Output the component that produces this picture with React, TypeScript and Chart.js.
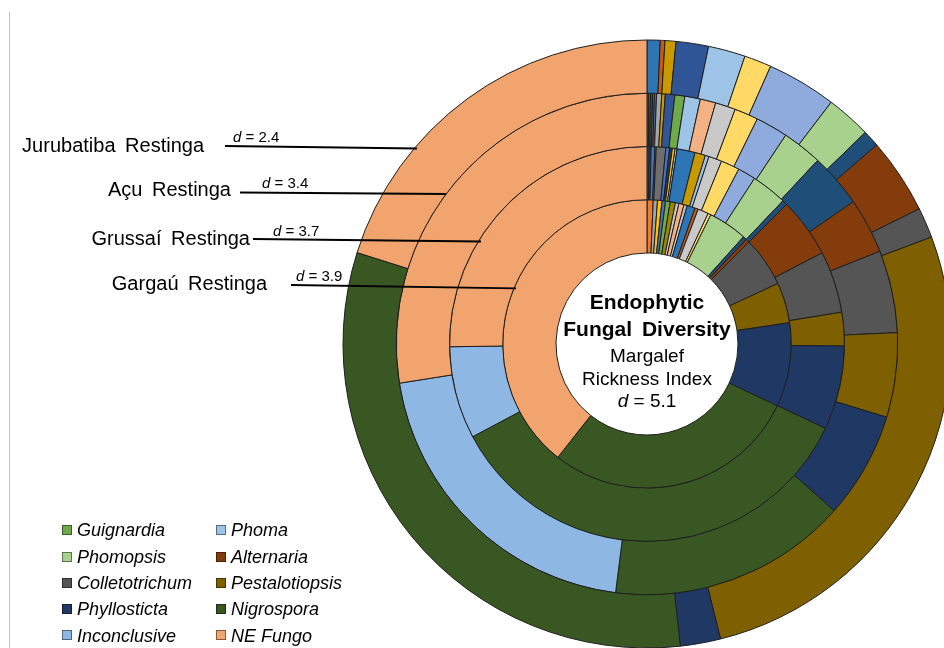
import React, { useEffect, useRef } from "react";
import { Chart, registerables } from "chart.js";

Chart.register(...registerables);

// ---------------- DATA ----------------
// Rings from outermost to innermost
const SITES = ["Jurubatiba Restinga", "Açu Restinga", "Grussaí Restinga", "Gargaú Restinga"];
const MARGALEF_D = ["2.4", "3.4", "3.7", "3.9"];
const OVERALL_D = "5.1";

const LEGEND_TAXA = [
  "Guignardia", "Phoma",
  "Phomopsis", "Alternaria",
  "Colletotrichum", "Pestalotiopsis",
  "Phyllosticta", "Nigrospora",
  "Inconclusive", "NE Fungo",
];

// shares (share of a full circle, 360 per ring), clockwise from 12 o'clock
const jurubatibaTaxa = ["Taxon A", "Taxon B", "Taxon C", "Taxon D", "Phoma", "Taxon E", "Taxon F", "Phomopsis", "Taxon G", "Alternaria", "Colletotrichum", "Pestalotiopsis", "Phyllosticta", "Nigrospora", "NE Fungo"];
const jurubatibaShare = [2.5, 0.9, 2.1, 6.2, 7.1, 5.2, 13.3, 8.6, 3.2, 14.5, 5.8, 96.6, 7.7, 113.8, 72.5];

const acuTaxa = ["Taxon M", "Taxon O", "Taxon G", "Taxon B", "Taxon A", "Taxon J", "Taxon C", "Taxon D", "Guignardia", "Phoma", "Taxon H", "Taxon I", "Taxon E", "Taxon F", "Phomopsis", "Taxon G", "Alternaria", "Colletotrichum", "Pestalotiopsis", "Phyllosticta", "Nigrospora", "Inconclusive", "NE Fungo"];
const acuShare = [0.4, 0.4, 0.5, 0.4, 0.5, 1.2, 0.8, 2.2, 2.3, 3.6, 3.6, 4.7, 5.5, 7.5, 9.3, 12.5, 12.9, 19.1, 19.6, 24.7, 55.5, 73.8, 99.0];

const grussaiTaxa = ["Taxon A", "Taxon G", "Taxon M", "Taxon B", "Taxon P", "Taxon M", "Phyllosticta", "Taxon L", "Phoma", "Taxon A", "Taxon C", "Phoma", "Taxon I", "Taxon E", "Taxon F", "Phomopsis", "Taxon G", "Alternaria", "Colletotrichum", "Pestalotiopsis", "Phyllosticta", "Nigrospora", "Inconclusive", "NE Fungo"];
const grussaiShare = [0.6, 0.6, 1.1, 0.4, 2.8, 1.1, 0.8, 0.8, 0.6, 5.3, 3.1, 1.1, 3.9, 5.5, 5.3, 10.5, 1.5, 17.5, 18.2, 9.9, 24.7, 126.7, 27.2, 90.8];

const gargauTaxa = ["Taxon K", "Taxon J", "Taxon L", "Taxon M", "Guignardia", "Taxon N", "Taxon I", "Taxon H", "Taxon I", "Taxon A", "Taxon B", "Taxon I", "Taxon E", "Phomopsis", "Taxon G", "Alternaria", "Colletotrichum", "Pestalotiopsis", "Phyllosticta", "Nigrospora", "NE Fungo"];
const gargauShare = [2.5, 1.7, 1.8, 1.4, 1.9, 2.1, 1.4, 2.1, 1.3, 3.3, 1.3, 4.3, 1.2, 15.7, 1.5, 1.5, 20.2, 16.3, 33.9, 102.8, 141.8];

const RING_TAXA = [jurubatibaTaxa, acuTaxa, grussaiTaxa, gargauTaxa];
const RING_SHARE = [jurubatibaShare, acuShare, grussaiShare, gargauShare];

// ---------------- STYLE ----------------
const TAXON_COLORS: Record<string, string> = {
  Guignardia: "#6EA94A",
  Phoma: "#9DC3E6",
  Phomopsis: "#A9D18E",
  Alternaria: "#843C0C",
  Colletotrichum: "#555555",
  Pestalotiopsis: "#7F6000",
  Phyllosticta: "#1F3864",
  Nigrospora: "#385723",
  Inconclusive: "#8EB8E3",
  "NE Fungo": "#F2A46F",
  "Taxon A": "#2E75B6",
  "Taxon B": "#C55A11",
  "Taxon C": "#C99A00",
  "Taxon D": "#2F5597",
  "Taxon E": "#FFD966",
  "Taxon F": "#8FAADC",
  "Taxon G": "#1F4E79",
  "Taxon H": "#F4B183",
  "Taxon I": "#C9C9C9",
  "Taxon J": "#A5A5A5",
  "Taxon K": "#ED7D31",
  "Taxon L": "#FFC000",
  "Taxon M": "#4472C4",
  "Taxon N": "#9E8700",
  "Taxon O": "#548235",
  "Taxon P": "#6E6E6E",
};

const FONT = '"Liberation Sans", Arial, Helvetica, sans-serif';
const CX = 647;
const CY = 344;
const OUTER_R = 304;
const INNER_R = 91;

// leader lines (label end -> ring edge)
const LEADERS = [
  { x1: 225, y1: 146, x2: 417, y2: 148.5 },
  { x1: 240, y1: 192.5, x2: 446, y2: 194 },
  { x1: 253, y1: 239, x2: 481, y2: 241.5 },
  { x1: 291, y1: 285, x2: 516, y2: 288.3 },
];
const SITE_LABEL_POS = [
  { right: 204, base: 152 },
  { right: 231, base: 196 },
  { right: 250, base: 244.5 },
  { right: 267, base: 289.5 },
];
const D_LABEL_POS = [
  { left: 233, base: 141.5 },
  { left: 262, base: 187.5 },
  { left: 273, base: 235.5 },
  { left: 296, base: 281 },
];

function Txt(props: {
  x: number; base: number; size: number; align?: "left" | "right" | "center";
  bold?: boolean; italic?: boolean; children: React.ReactNode; ws?: number;
}) {
  const { x, base, size, align = "left", bold, italic, children, ws } = props;
  const top = base - 0.8465 * size;
  const W = 600;
  let left = x;
  if (align === "right") left = x - W;
  if (align === "center") left = x - W / 2;
  return (
    <div
      style={{
        position: "absolute",
        left,
        top,
        width: W,
        textAlign: align,
        fontFamily: FONT,
        fontSize: size,
        lineHeight: `${size}px`,
        fontWeight: bold ? "bold" : "normal",
        fontStyle: italic ? "italic" : "normal",
        color: "#000",
        whiteSpace: "nowrap",
        wordSpacing: ws ? `${ws}px` : undefined,
        zIndex: 2,
      }}
    >
      {children}
    </div>
  );
}

export default function App() {
  const ref = useRef<HTMLCanvasElement | null>(null);

  useEffect(() => {
    if (!ref.current) return;
    const leaderPlugin = {
      id: "leaders",
      afterDatasetsDraw(chart: any) {
        const ctx = chart.ctx;
        ctx.save();
        ctx.strokeStyle = "#000";
        ctx.lineWidth = 1.8;
        LEADERS.forEach((l) => {
          ctx.beginPath();
          ctx.moveTo(l.x1, l.y1);
          ctx.lineTo(l.x2, l.y2);
          ctx.stroke();
        });
        ctx.restore();
      },
    };
    const chart = new Chart(ref.current, {
      type: "doughnut",
      data: {
        labels: LEGEND_TAXA,
        datasets: RING_TAXA.map((taxa, i) => ({
          label: SITES[i],
          data: RING_SHARE[i],
          backgroundColor: taxa.map((t) => TAXON_COLORS[t]),
          borderColor: "#1e1e1e",
          borderWidth: 1,
        })),
      },
      options: {
        responsive: false,
        animation: false,
        radius: OUTER_R,
        cutout: `${(INNER_R / OUTER_R) * 100}%`,
        layout: { padding: 0 },
        plugins: {
          legend: { display: false },
          tooltip: { enabled: false },
          title: { display: false },
        },
        events: [],
      } as any,
      plugins: [leaderPlugin],
    });
    return () => chart.destroy();
  }, []);

  return (
    <div
      style={{
        position: "fixed",
        left: 0,
        top: 0,
        width: 944,
        height: 648,
        overflow: "hidden",
        background: "#fff",
      }}
    >
      <div style={{ position: "absolute", left: 9, top: 12, width: 1, height: 640, background: "#C4C4C4" }} />
      <canvas
        ref={ref}
        width={CX * 2}
        height={CY * 2}
        style={{ position: "absolute", left: 0, top: 0, width: CX * 2, height: CY * 2, zIndex: 1 }}
      />
      {SITES.map((s, i) => (
        <Txt key={s} x={SITE_LABEL_POS[i].right} base={SITE_LABEL_POS[i].base} size={20} align="right" ws={4}>
          {s}
        </Txt>
      ))}
      {MARGALEF_D.map((d, i) => (
        <Txt key={"d" + i} x={D_LABEL_POS[i].left} base={D_LABEL_POS[i].base} size={15}>
          <i>d</i> = {d}
        </Txt>
      ))}
      <Txt x={CX} base={309} size={21} align="center" bold ws={2}>Endophytic</Txt>
      <Txt x={CX} base={336} size={21} align="center" bold ws={4}>Fungal Diversity</Txt>
      <Txt x={CX} base={362} size={19} align="center">Margalef</Txt>
      <Txt x={CX} base={385.5} size={19} align="center" ws={1}>Rickness Index</Txt>
      <Txt x={CX} base={407} size={19} align="center"><i>d</i> = {OVERALL_D}</Txt>
      {LEGEND_TAXA.map((t, i) => {
        const col = i % 2;
        const row = Math.floor(i / 2);
        const sx = col === 0 ? 62 : 216;
        const base = 536.7 + row * 26.3;
        return (
          <React.Fragment key={t}>
            <div
              style={{
                position: "absolute",
                left: sx,
                top: base - 11.5,
                width: 8,
                height: 8,
                background: TAXON_COLORS[t],
                border: "1px solid rgba(0,0,0,0.45)",
                zIndex: 2,
              }}
            />
            <Txt x={sx + 15} base={base} size={18} italic>{t}</Txt>
          </React.Fragment>
        );
      })}
    </div>
  );
}
